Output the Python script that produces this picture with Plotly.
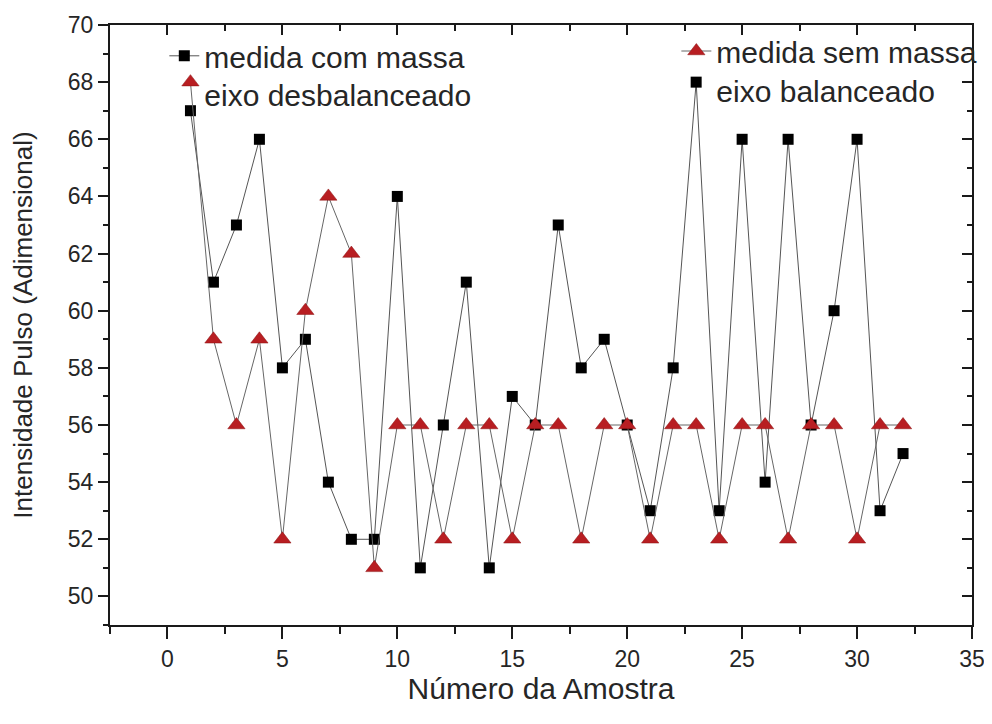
import plotly.graph_objects as go

amostra = list(range(1, 33))
com_massa = [67, 61, 63, 66, 58, 59, 54, 52, 52, 64, 51, 56, 61, 51, 57, 56,
             63, 58, 59, 56, 53, 58, 68, 53, 66, 54, 66, 56, 60, 66, 53, 55]
sem_massa = [68, 59, 56, 59, 52, 60, 64, 62, 51, 56, 56, 52, 56, 56, 52, 56,
             56, 52, 56, 56, 52, 56, 56, 52, 56, 56, 52, 56, 56, 52, 56, 56]
nome_com = "medida com massa<br>eixo desbalanceado"
nome_sem = "medida sem massa<br>eixo balanceado"
x_ticks = [0, 5, 10, 15, 20, 25, 30, 35]
y_ticks = list(range(50, 71, 2))

FONT = "Liberation Sans, Arial, sans-serif"
TXT = "#262626"

fig = go.Figure()
fig.add_trace(go.Scatter(
    x=amostra, y=com_massa, mode="lines+markers", name=nome_com,
    line=dict(color="#555555", width=1),
    marker=dict(symbol="square", size=11, color="#000000"),
    legend="legend"))
fig.add_trace(go.Scatter(
    x=amostra, y=sem_massa, mode="lines+markers", name=nome_sem,
    line=dict(color="#666666", width=1),
    marker=dict(symbol="triangle-up", size=15, color="#b81e22",
                line=dict(color="#8a1010", width=0.5)),
    legend="legend2"))
# empty trace to draw the mirrored (top/right) axes with inward ticks
fig.add_trace(go.Scatter(x=[None], y=[None], xaxis="x2", yaxis="y2",
                         showlegend=False, hoverinfo="skip"))

axcommon = dict(showline=True, linecolor="#1a1a1a", linewidth=2,
                showgrid=False, zeroline=False, tickcolor="#1a1a1a",
                tickwidth=1.5, automargin=False)

fig.update_layout(
    width=992, height=724,
    paper_bgcolor="white", plot_bgcolor="white",
    margin=dict(l=102, r=28, t=17, b=107),
    font=dict(family=FONT, color=TXT),
    xaxis=dict(range=[-2.5, 35], tickvals=x_ticks, ticks="outside", ticklen=12,
               tickfont=dict(size=23, color=TXT),
               minor=dict(dtick=2.5, tick0=0, ticks="outside", ticklen=7,
                          tickcolor="#1a1a1a", tickwidth=1.5),
               title=dict(text="Número da Amostra", font=dict(size=30, color=TXT),
                          standoff=6),
               **axcommon),
    yaxis=dict(range=[49, 70], tickvals=y_ticks, ticks="outside", ticklen=10,
               tickfont=dict(size=23, color=TXT),
               minor=dict(dtick=1, tick0=49, ticks="outside", ticklen=5,
                          tickcolor="#1a1a1a", tickwidth=1.5),
               title=dict(text="Intensidade Pulso (Adimensional)",
                          font=dict(size=26, color=TXT), standoff=28),
               **axcommon),
    xaxis2=dict(range=[-2.5, 35], overlaying="x", side="top", tickvals=x_ticks,
                ticks="inside", ticklen=10, showticklabels=False,
                minor=dict(dtick=2.5, tick0=0, ticks="inside", ticklen=6,
                           tickcolor="#1a1a1a", tickwidth=1.5),
                **axcommon),
    yaxis2=dict(range=[49, 70], overlaying="y", side="right", tickvals=y_ticks,
                ticks="inside", ticklen=10, showticklabels=False,
                minor=dict(dtick=1, tick0=49, ticks="inside", ticklen=5,
                           tickcolor="#1a1a1a", tickwidth=1.5),
                **axcommon),
    legend=dict(x=0.063, y=0.992, xanchor="left", yanchor="top",
                bgcolor="rgba(0,0,0,0)", valign="top",
                font=dict(size=30, color=TXT, family=FONT)),
    legend2=dict(x=1.012, y=1.0, xanchor="right", yanchor="top",
                 bgcolor="rgba(0,0,0,0)", valign="top",
                 font=dict(size=30, color=TXT, family=FONT)),
)

fig.write_html("out.html")
